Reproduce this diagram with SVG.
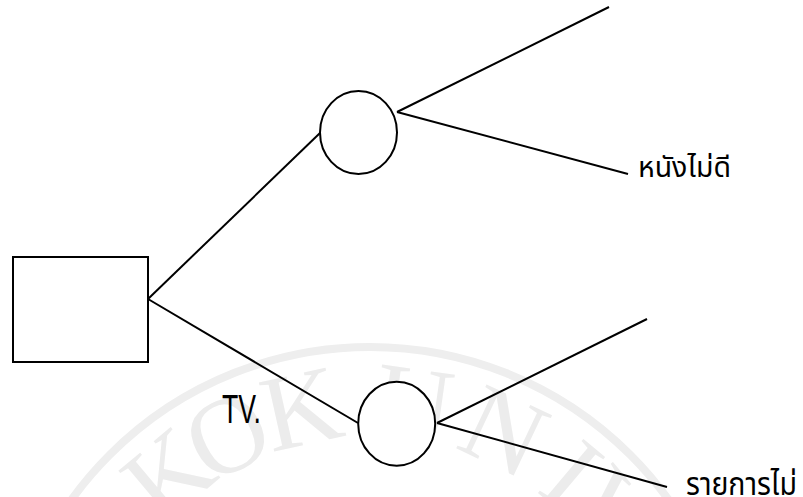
<svg xmlns="http://www.w3.org/2000/svg" width="803" height="497" viewBox="0 0 803 497">
  <style>
    .edge { stroke: #000; stroke-width: 2; fill: none; }
    .node { stroke: #000; stroke-width: 2; fill: #fff; }
    .wm { fill: #ececec; font-family: "Liberation Serif", serif; font-size: 108px; text-anchor: middle; }
    .thai { font-family: "Noto Sans Thai", "Noto Sans", "DejaVu Sans", sans-serif; fill: #000; }
    .lbl { font-family: "Liberation Sans", Arial, sans-serif; fill: #000; }
  </style>

  <rect width="803" height="497" fill="#fff"/>

  <!-- background seal -->
  <g id="seal">
    <circle cx="370" cy="715" r="368" fill="none" stroke="#eeeeee" stroke-width="8"/>
    <text class="wm" x="370" y="437" transform="rotate(-40 370 715)">K</text>
    <text class="wm" x="370" y="437" transform="rotate(-27 370 715)">O</text>
    <text class="wm" x="370" y="437" transform="rotate(-12.6 370 715)">K</text>
    <text class="wm" x="370" y="437" transform="rotate(8 370 715)">U</text>
    <text class="wm" x="370" y="437" transform="rotate(25.3 370 715)">N</text>
    <text class="wm" x="370" y="437" transform="rotate(40 370 715)">I</text>
    <text class="wm" x="370" y="437" transform="rotate(50 370 715)">V</text>
  </g>

  <!-- connectors -->
  <g id="connectors">
    <line class="edge" x1="148" y1="299" x2="320" y2="133"/>
    <line class="edge" x1="148" y1="299" x2="358" y2="423"/>
    <line class="edge" x1="397" y1="112" x2="609" y2="7"/>
    <line class="edge" x1="397" y1="112" x2="628" y2="174"/>
    <line class="edge" x1="437" y1="423" x2="647" y2="319"/>
    <line class="edge" x1="437" y1="423" x2="667" y2="487"/>
  </g>

  <g id="decision">
    <rect class="node" x="13" y="257" width="135" height="105"/>
  </g>

  <g id="chance-top">
    <ellipse class="node" cx="358.5" cy="132.5" rx="38.5" ry="41.5"/>
  </g>

  <g id="chance-bottom">
    <ellipse class="node" cx="396.7" cy="423.7" rx="38.5" ry="42"/>
  </g>

  <g id="label-tv">
    <text class="lbl" x="222" y="423" font-size="40" textLength="39" lengthAdjust="spacingAndGlyphs">TV.</text>
  </g>

  <g id="label-bad-movie">
    <text class="thai" x="638" y="177" font-size="28" textLength="93" lengthAdjust="spacingAndGlyphs">หนังไม่ดี</text>
  </g>

  <g id="label-bad-show">
    <text class="thai" x="686" y="495" font-size="32" textLength="111" lengthAdjust="spacingAndGlyphs">รายการไม่</text>
  </g>
</svg>
